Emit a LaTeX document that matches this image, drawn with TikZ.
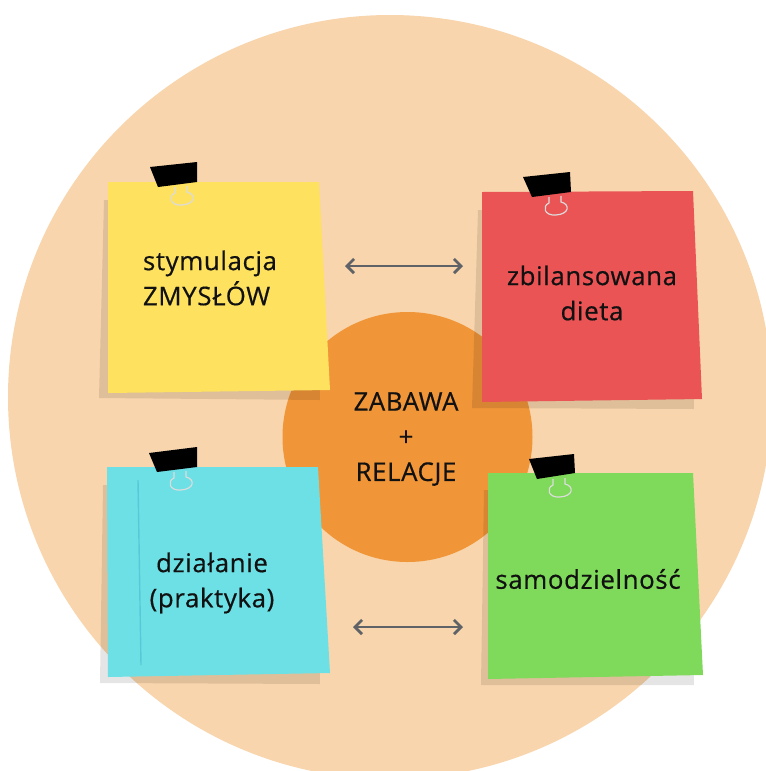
\documentclass[tikz,border=0pt]{standalone}
\usepackage{fontspec}
\setmainfont{Open Sans}[LetterSpace=2.5, FakeBold=0.5]
\usepackage{xcolor}
\usetikzlibrary{arrows.meta}

\definecolor{brzoskwinia}{HTML}{F8D5AC}
\definecolor{pomarancz}{HTML}{F09538}
\definecolor{zolty}{HTML}{FDE15F}
\definecolor{czerwony}{HTML}{EA5455}
\definecolor{turkus}{HTML}{6DE0E6}
\definecolor{turkusciemny}{HTML}{58C8D8}
\definecolor{zielony}{HTML}{7FD95A}
\definecolor{drut}{HTML}{DCDCDC}
\definecolor{strzalka}{HTML}{5F6368}
\definecolor{napis}{HTML}{111111}

\begin{document}
\begin{tikzpicture}[x=0.03cm, y=-0.03cm,
    napis/.style={font=\fontsize{22}{30}\selectfont, text=napis, inner sep=0pt},
    link/.style={draw=strzalka, line width=2.4pt, line cap=round,
      {Straight Barb[length=6pt,width=12pt]}-{Straight Barb[length=6pt,width=12pt]}},
    cien/.style={fill=black, fill opacity=0.1},
    klips/.style={fill=black},
    petla/.style={draw=drut, line width=1pt}]
    \useasboundingbox (0,0) rectangle (766,771);
    \clip (0,0) rectangle (766,771);

    % Background circles
    \fill[brzoskwinia] (390,397) circle (382);
    \fill[pomarancz] (407.5,437) circle (125);

    % Shadows under the notes
    \fill[cien] (104,200) -- (318,200) -- (320,400) -- (99,398) -- cycle;
    \fill[cien] (478,210) -- (690,210) -- (694,409) -- (472,408) -- cycle;
    \fill[cien] (103,485) -- (318,485) -- (320,684) -- (100,683) -- cycle;
    \fill[cien] (484,490) -- (690,490) -- (694,685) -- (481,685) -- cycle;

    % Notes
    \fill[zolty] (108,182) -- (319,182) -- (330,390) -- (108,393) -- cycle;
    \fill[czerwony] (482,192) -- (693,191) -- (702,399) -- (482,402) -- cycle;
    \fill[turkus] (107,467) -- (318,467) -- (330,673) -- (108,677) -- cycle;
    \fill[zielony] (488,473) -- (693,473) -- (703,675) -- (488,679) -- cycle;
    \draw[turkusciemny, line width=1.2pt] (138,480) -- (141,665);

    % Binder clips
    \fill[klips] (150,167) -- (197,162) -- (197,182) -- (158,187) -- cycle;
    \fill[klips] (523,177) -- (570,172) -- (571,192) -- (532,197) -- cycle;
    \fill[klips] (149,453) -- (197,447) -- (197,467) -- (157,472) -- cycle;
    \fill[klips] (529,459) -- (574,454) -- (575,473) -- (537,479) -- cycle;
    \draw[petla] (175,187) -- (175,193) .. controls (168,196) and (170,206) .. (182,205)
        .. controls (196,204) and (196,194) .. (187,192) -- (187,186);
    \draw[petla, shift={(374,10)}] (175,187) -- (175,193) .. controls (168,196) and (170,206) .. (182,205)
        .. controls (196,204) and (196,194) .. (187,192) -- (187,186);
    \draw[petla, shift={(-1,285)}] (175,187) -- (175,193) .. controls (168,196) and (170,206) .. (182,205)
        .. controls (196,204) and (196,194) .. (187,192) -- (187,186);
    \draw[petla, shift={(378,292)}] (175,187) -- (175,193) .. controls (168,196) and (170,206) .. (182,205)
        .. controls (196,204) and (196,194) .. (187,192) -- (187,186);

    % Texts
    \node[napis, align=left] (zmysly) at (210,278) {stymulacja\\ZMYSŁÓW};
    \node[napis, align=center] (dieta) at (592,293) {zbilansowana\\dieta};
    \node[napis, align=center] (srodek) at (406,439) {ZABAWA\\+\\RELACJE};
    \node[napis, align=center] (praktyka) at (212,583) {działanie\\(praktyka)};
    \node[napis] (samodzielnosc) at (588,579) {samodzielność};

    % Arrows
    \coordinate (gora1) at (345,266);
    \coordinate (gora2) at (463,266);
    \coordinate (dol1) at (353,627);
    \coordinate (dol2) at (463,627);
    \draw[link] (gora1) -- (gora2);
    \draw[link] (dol1) -- (dol2);
\end{tikzpicture}
\end{document}
